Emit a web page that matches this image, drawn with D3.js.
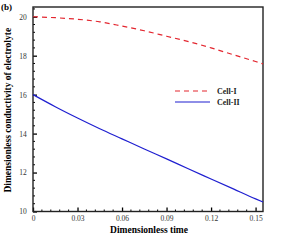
<!DOCTYPE html>
<html>
<head>
<meta charset="utf-8">
<script src="https://cdn.jsdelivr.net/npm/d3@7"></script>
<style>
  body { margin: 0; background: #fff; }
  text { font-family: "Liberation Serif", "DejaVu Serif", serif; }
</style>
</head>
<body>
<div id="wrapper"></div>
<script>
// data
const times = [0, 0.015, 0.03, 0.045, 0.06, 0.075, 0.09, 0.105, 0.12, 0.135, 0.15, 0.155]
const cell1 = [20.0, 19.95, 19.87, 19.74, 19.52, 19.28, 19.0, 18.72, 18.4, 18.05, 17.7, 17.58]
const cell2 = [16.0, 15.38, 14.8, 14.25, 13.73, 13.21, 12.7, 12.18, 11.67, 11.16, 10.65, 10.49]
const xTicks = [0, 0.03, 0.06, 0.09, 0.12, 0.15]
const xTickLabels = ["0", "0.03", "0.06", "0.09", "0.12", "0.15"]
const yTicks = [10, 12, 14, 16, 18, 20]
const seriesNames = ["Cell-I", "Cell-II"]

const dimensions = {
  width: 299,
  height: 242,
  margin: { top: 7, right: 36, bottom: 30.5, left: 33 }
}
dimensions.boundedWidth = dimensions.width - dimensions.margin.left - dimensions.margin.right
dimensions.boundedHeight = dimensions.height - dimensions.margin.top - dimensions.margin.bottom

const svg = d3.select("#wrapper").append("svg")
  .attr("width", dimensions.width)
  .attr("height", dimensions.height)

const bounds = svg.append("g")
  .attr("transform", `translate(${dimensions.margin.left},${dimensions.margin.top})`)

const xScale = d3.scaleLinear()
  .domain([0, 0.155])
  .range([0, dimensions.boundedWidth])

const yScale = d3.scaleLinear()
  .domain([10, 20.5])
  .range([dimensions.boundedHeight, 0])

// minor ticks
const xMinor = d3.range(0, 0.1551, 0.006).filter(v => !xTicks.some(t => Math.abs(t - v) < 1e-6))
const yMinor = d3.range(10, 20.51, 0.4).filter(v => !yTicks.some(t => Math.abs(t - v) < 1e-6))

// axes (ticks point inward)
const xAxis = bounds.append("g")
  .attr("transform", `translate(0,${dimensions.boundedHeight})`)
  .call(d3.axisBottom(xScale).tickValues(xTicks).tickSizeInner(-4).tickSizeOuter(0)
    .tickPadding(4).tickFormat((d, i) => xTickLabels[i]))
xAxis.append("g").selectAll("line")
  .data(xMinor).join("line")
  .attr("x1", d => xScale(d)).attr("x2", d => xScale(d))
  .attr("y1", 0).attr("y2", -2)
  .attr("stroke", "#000")

const yAxis = bounds.append("g")
  .call(d3.axisLeft(yScale).tickValues(yTicks).tickSizeInner(-4).tickSizeOuter(0)
    .tickPadding(7).tickFormat(d3.format("d")))
yAxis.append("g").selectAll("line")
  .data(yMinor).join("line")
  .attr("y1", d => yScale(d)).attr("y2", d => yScale(d))
  .attr("x1", 0).attr("x2", 2)
  .attr("stroke", "#000")

bounds.selectAll(".domain").remove()
bounds.selectAll(".tick line").attr("stroke", "#000").attr("stroke-width", 1.3)
bounds.selectAll(".tick text")
  .style("font-size", "7.5px")
  .attr("fill", "#333")
yAxis.selectAll(".tick text").attr("dx", "0.1em")

// frame
bounds.append("rect")
  .attr("width", dimensions.boundedWidth)
  .attr("height", dimensions.boundedHeight)
  .attr("fill", "none")
  .attr("stroke", "#222")
  .attr("stroke-width", 1.4)

// lines
const lineGen = values => d3.line()
  .x((d, i) => xScale(times[i]))
  .y(d => yScale(d))
  .curve(d3.curveMonotoneX)(values)

bounds.append("path")
  .attr("d", lineGen(cell1))
  .attr("fill", "none")
  .attr("stroke", "#e3262f")
  .attr("stroke-width", 1.2)
  .attr("stroke-dasharray", "5,4")

bounds.append("path")
  .attr("d", lineGen(cell2))
  .attr("fill", "none")
  .attr("stroke", "#1f1fd0")
  .attr("stroke-width", 1.2)

// legend
const legend = svg.append("g").attr("transform", "translate(175,91)")
const legendStyles = [
  { color: "#e3262f", dash: "5,4" },
  { color: "#1f1fd0", dash: null }
]
seriesNames.forEach((name, i) => {
  const row = legend.append("g").attr("transform", `translate(0,${i * 11})`)
  row.append("line")
    .attr("x1", 0).attr("x2", 35)
    .attr("stroke", legendStyles[i].color)
    .attr("stroke-width", 1.2)
    .attr("stroke-dasharray", legendStyles[i].dash)
  row.append("text")
    .attr("x", 42).attr("y", 3)
    .style("font-size", "8px")
    .style("font-weight", "bold")
    .attr("fill", "#222")
    .text(name)
})

// labels
svg.append("text")
  .attr("x", 1).attr("y", 10)
  .style("font-size", "9px")
  .style("font-weight", "bold")
  .text("(b)")

svg.append("text")
  .attr("x", dimensions.margin.left + dimensions.boundedWidth / 2 + 1)
  .attr("y", 233)
  .attr("text-anchor", "middle")
  .style("font-size", "9.5px")
  .style("font-weight", "bold")
  .text("Dimensionless time")

svg.append("text")
  .attr("transform", `translate(11,${dimensions.margin.top + dimensions.boundedHeight / 2 + 1}) rotate(-90)`)
  .attr("text-anchor", "middle")
  .style("font-size", "9.5px")
  .style("font-weight", "bold")
  .text("Dimensionless conductivity of electrolyte")
</script>
</body>
</html>
